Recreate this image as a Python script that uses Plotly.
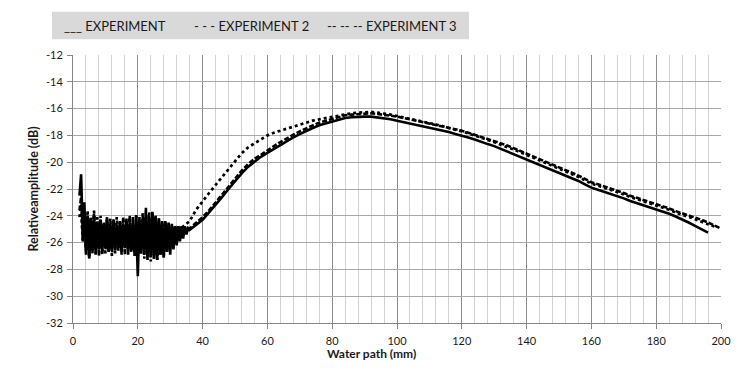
import plotly.graph_objects as go

# ---------------- data ----------------
SERIES_NAMES = ["EXPERIMENT", "EXPERIMENT 2", "EXPERIMENT 3"]
LEGEND_MARKS = ["___", "- - -", "-- -- --"]
X_TITLE = "Water path (mm)"
Y_TITLE = "Relativeamplitude (dB)"

NOISE_START = 2.0   # mm, first sample of the noisy near-field region
NOISE_STEP = 0.5    # mm between noisy samples

EXP1_NOISE = [-22.5, -20.9, -25.2, -23.0, -26.9, -24.0, -27.1, -24.2, -26.6, -24.0,
              -26.9, -24.5, -26.5, -24.3, -26.8, -24.6, -26.4, -24.2, -26.7, -24.6,
              -26.5, -24.4, -26.6, -24.7, -26.3, -24.4, -26.7, -24.8, -26.4, -24.2,
              -26.9, -24.5, -26.5, -24.1, -27.0, -24.6, -28.5, -24.1, -26.8, -24.5,
              -26.7, -23.8, -27.1, -24.3, -26.9, -23.7, -27.2, -24.0, -27.3, -24.3,
              -26.9, -24.5, -27.1, -24.4, -26.7, -24.6, -26.9, -24.6, -26.5, -24.8,
              -26.2, -24.8, -25.9, -24.8, -25.7, -24.8, -25.4, -24.9]
EXP2_NOISE = [-24.1, -23.3, -26.0, -24.0, -26.6, -23.6, -27.0, -24.3, -26.4, -23.9,
              -26.8, -24.5, -26.2, -24.0, -26.9, -24.7, -26.3, -24.3, -26.7, -24.2,
              -26.4, -24.6, -26.8, -24.1, -26.5, -24.5, -26.6, -24.3, -26.9, -24.4,
              -26.3, -24.1, -26.7, -24.7, -26.2, -24.0, -27.0, -24.3, -26.4, -23.8,
              -27.2, -24.1, -27.0, -23.7, -27.4, -24.2, -26.9, -24.0, -27.3, -24.4,
              -26.8, -24.6, -26.9, -24.4, -26.4, -24.7, -26.3, -24.9, -25.8, -24.8,
              -25.4, -25.0, -25.0, -24.9, -24.8, -24.7, -24.6, -24.5]
EXP3_NOISE = [-23.6, -22.6, -25.8, -23.7, -26.4, -24.0, -27.2, -24.1, -26.8, -23.6,
              -26.5, -24.1, -27.0, -24.4, -26.3, -24.5, -26.8, -24.1, -26.5, -24.6,
              -27.0, -24.2, -26.4, -24.8, -26.6, -24.4, -26.9, -24.1, -26.3, -24.5,
              -26.7, -24.0, -26.6, -24.7, -26.2, -23.9, -26.6, -24.6, -26.8, -24.2,
              -26.9, -23.4, -27.3, -24.0, -27.1, -23.8, -27.2, -24.3, -27.0, -24.1,
              -26.9, -24.4, -27.1, -24.6, -26.7, -24.5, -26.3, -24.7, -26.3, -24.7,
              -26.0, -24.7, -25.7, -24.8, -25.5, -24.8, -25.3, -24.9]

SMOOTH_X = [36, 38, 40, 42, 44, 46, 48, 50, 52, 54, 56, 58, 60, 62, 64, 66, 68, 70,
            72, 74, 76, 78, 80, 82, 84, 86, 88, 90, 92, 94, 96, 98, 100, 102, 104,
            106, 108, 110, 112, 114, 116, 118, 120, 122, 124, 126, 128, 130, 132,
            134, 136, 138, 140, 142, 144, 146, 148, 150, 152, 154, 156, 158, 160,
            162, 164, 166, 168, 170, 172, 174, 176, 178, 180, 182, 184, 186, 188,
            190, 192, 194, 196, 198, 200]

EXP1_SMOOTH = [-25.05, -24.7, -24.3, -23.75, -23.2, -22.6, -22.0, -21.4, -20.85, -20.35,
               -19.95, -19.6, -19.3, -19.0, -18.7, -18.4, -18.15, -17.9, -17.65, -17.45,
               -17.25, -17.1, -16.95, -16.8, -16.7, -16.65, -16.6, -16.6, -16.6, -16.65,
               -16.7, -16.8, -16.9, -17.0, -17.1, -17.2, -17.3, -17.45, -17.55, -17.65,
               -17.75, -17.9, -18.0, -18.15, -18.3, -18.5, -18.65, -18.8, -19.0, -19.15,
               -19.35, -19.55, -19.75, -19.95, -20.15, -20.35, -20.55, -20.75, -20.95, -21.15,
               -21.4, -21.65, -21.9, -22.05, -22.2, -22.4, -22.55, -22.7, -22.9, -23.05,
               -23.2, -23.4, -23.55, -23.7, -23.85, -24.05, -24.25, -24.5, -24.75, -25.0,
               -25.25]
EXP2_SMOOTH = [-24.4, -23.55, -22.9, -22.3, -21.7, -21.1, -20.5, -19.9, -19.35, -18.9,
               -18.6, -18.3, -18.0, -17.8, -17.65, -17.45, -17.3, -17.15, -17.0, -16.9,
               -16.8, -16.7, -16.6, -16.5, -16.4, -16.35, -16.3, -16.25, -16.25, -16.3,
               -16.35, -16.45, -16.55, -16.65, -16.75, -16.85, -16.95, -17.1, -17.2, -17.3,
               -17.45, -17.55, -17.7, -17.85, -18.0, -18.2, -18.35, -18.5, -18.7, -18.85,
               -19.05, -19.25, -19.45, -19.65, -19.85, -20.05, -20.25, -20.45, -20.65, -20.85,
               -21.1, -21.35, -21.6, -21.75, -21.9, -22.1, -22.25, -22.4, -22.6, -22.75,
               -22.9, -23.1, -23.25, -23.4, -23.55, -23.75, -23.9, -24.1, -24.25, -24.45,
               -24.6, -24.8]
EXP3_SMOOTH = [-24.95, -24.55, -24.1, -23.6, -23.0, -22.4, -21.8, -21.2, -20.65, -20.15,
               -19.75, -19.45, -19.1, -18.8, -18.5, -18.2, -17.95, -17.7, -17.45, -17.25,
               -17.05, -16.9, -16.75, -16.6, -16.5, -16.45, -16.4, -16.35, -16.35, -16.4,
               -16.45, -16.5, -16.6, -16.7, -16.8, -16.9, -17.0, -17.1, -17.2, -17.3,
               -17.4, -17.55, -17.65, -17.8, -17.95, -18.1, -18.25, -18.4, -18.6, -18.75,
               -18.95, -19.15, -19.35, -19.55, -19.75, -19.95, -20.15, -20.35, -20.55, -20.75,
               -21.0, -21.25, -21.5, -21.65, -21.8, -22.0, -22.15, -22.3, -22.5, -22.65,
               -22.8, -23.0, -23.15, -23.3, -23.45, -23.65, -23.8, -24.0, -24.15, -24.3,
               -24.5, -24.7, -24.95]

X_TICKS = [0, 20, 40, 60, 80, 100, 120, 140, 160, 180, 200]
Y_TICKS = [-32, -30, -28, -26, -24, -22, -20, -18, -16, -14, -12]
Y_TICK_LABELS = ["-32", "-30", "-28", "-26", "-24", "-22", "-20", "-18", "-16", "-14", "-12"]

# ---------------- figure ----------------
FONT = "Lato, 'Liberation Sans', Arial, sans-serif"

def series_xy(noise, smooth):
    xs = [NOISE_START + NOISE_STEP * i for i in range(len(noise))] + SMOOTH_X[:len(smooth)]
    return xs, list(noise) + list(smooth)

styles = [dict(dash="solid", width=2.6),
          dict(dash="3px,3px", width=2.7),
          dict(dash="5px,2px", width=2.6)]

fig = go.Figure()
for name, noise, smooth, st in zip(SERIES_NAMES,
                                   [EXP1_NOISE, EXP2_NOISE, EXP3_NOISE],
                                   [EXP1_SMOOTH, EXP2_SMOOTH, EXP3_SMOOTH],
                                   styles):
    xs, ys = series_xy(noise, smooth)
    fig.add_trace(go.Scatter(x=xs, y=ys, mode="lines", name=name, showlegend=False,
                             line=dict(color="black", **st)))

# custom text legend in a grey box, as in the original
fig.add_shape(type="rect", xref="paper", yref="paper",
              x0=-0.0324, x1=0.611, y0=1.0586, y1=1.1616,
              fillcolor="#d9d9d9", line=dict(width=0), layer="below")
legend_x = [-0.017, 0.184, 0.389]
for lx, mark, name in zip(legend_x, LEGEND_MARKS, SERIES_NAMES):
    fig.add_annotation(xref="paper", yref="paper", x=lx, y=1.11, xanchor="left",
                       yanchor="middle", showarrow=False,
                       text=f"{mark} {name}",
                       font=dict(family=FONT, size=13, color="#1a1a1a"))

# x-axis title (sits a little left of centre in the original)
fig.add_annotation(xref="paper", yref="paper", x=0.461, y=-0.112, xanchor="center",
                   yanchor="middle", showarrow=False, text=f"<b>{X_TITLE}</b>",
                   font=dict(family=FONT, size=12, color="#1a1a1a"))

# page body adds 8px of offset; margins compensate so the plot box lands as in the original
fig.update_layout(
    width=750, height=370,
    margin=dict(l=65, r=37, t=47, b=55, autoexpand=False),
    paper_bgcolor="white", plot_bgcolor="white",
    font=dict(family=FONT, size=11, color="#1a1a1a"),
)
fig.update_xaxes(
    range=[0, 200], tickvals=X_TICKS, showgrid=True, gridcolor="#8c8c8c", gridwidth=1,
    minor=dict(dtick=4, showgrid=True, gridcolor="#d2d2d2", gridwidth=1),
    showline=True, linecolor="#868686", linewidth=1,
    ticks="outside", ticklen=5, tickcolor="#868686", ticklabelstandoff=3,
    zeroline=False,
    tickfont=dict(size=11),
)
fig.update_yaxes(
    range=[-32, -12], tickvals=Y_TICKS, ticktext=Y_TICK_LABELS,
    showgrid=True, gridcolor="#a8a8a8", gridwidth=1,
    showline=True, linecolor="#868686", linewidth=1,
    ticks="outside", ticklen=5, tickcolor="#868686", ticklabelstandoff=2,
    zeroline=False,
    title=dict(text=f"<b>{Y_TITLE}</b>", font=dict(size=12.5, family=FONT), standoff=4),
    tickfont=dict(size=11),
)

fig.write_html("out.html")
